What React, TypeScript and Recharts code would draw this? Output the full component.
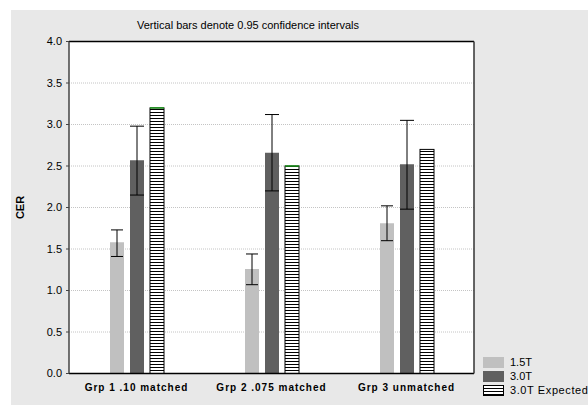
import { Bar, CartesianGrid, ComposedChart, ErrorBar, XAxis, YAxis } from "recharts";

const categories = ["Grp 1 .10 matched", "Grp 2 .075 matched", "Grp 3 unmatched"];
const t15 = [1.58, 1.26, 1.81];
const t15Low = [1.41, 1.07, 1.6];
const t15High = [1.73, 1.44, 2.02];
const t30 = [2.57, 2.66, 2.52];
const t30Low = [2.15, 2.2, 1.98];
const t30High = [2.98, 3.12, 3.05];
const t30Expected = [3.2, 2.5, 2.7];
const yTicks = [0, 0.5, 1, 1.5, 2, 2.5, 3, 3.5, 4];
const rightTicks = [0, 1, 2, 3, 4, 5, 6, 7];

const data = categories.map((name, i) => ({
  name,
  t15: t15[i],
  t15Err: [t15[i] - t15Low[i], t15High[i] - t15[i]],
  t30: t30[i],
  t30Err: [t30[i] - t30Low[i], t30High[i] - t30[i]],
  exp: t30Expected[i],
}));

const FONT = "Arial, 'Liberation Sans', sans-serif";
const LIGHT = "#c0c0c0";
const DARK = "#606060";

function CatTick(props: any) {
  const { x, y, payload } = props;
  return (
    <text
      x={x}
      y={y}
      dy={9}
      textAnchor="middle"
      fontFamily={FONT}
      fontSize={10}
      fontWeight="bold"
      letterSpacing={1}
      fill="#000"
    >
      {payload.value}
    </text>
  );
}

function ExpectedBar(props: any) {
  const { x, y, width, height, index } = props;
  return (
    <g>
      <rect x={x} y={y} width={width} height={height} fill="url(#hstripe)" stroke="#000" strokeWidth={1} />
      {index < 2 && <line x1={x} x2={x + width} y1={y} y2={y} stroke="#1f9a1f" strokeWidth={1.5} />}
    </g>
  );
}

const legendItems = [
  { label: "1.5T", fill: LIGHT },
  { label: "3.0T", fill: DARK },
  { label: "3.0T Expected", fill: "stripe" },
];

export default function App() {
  return (
    <div style={{ position: "absolute", left: 0, top: 0, width: 588, height: 405, background: "#fff" }}>
      <div style={{ position: "absolute", left: 11, top: 10, width: 577, height: 395, background: "#e8e8e8", fontFamily: FONT }}>
        <div
          style={{
            position: "absolute",
            left: 0,
            width: 474,
            top: 9,
            textAlign: "center",
            fontSize: 11,
            color: "#000",
          }}
        >
          Vertical bars denote 0.95 confidence intervals
        </div>
        <ComposedChart
          width={577}
          height={395}
          data={data}
          barSize={14}
          barGap={6}
          margin={{ top: 31.5, right: 114, bottom: 11.5, left: 0 }}
        >
          <defs>
            <pattern id="hstripe" width={4} height={3} patternUnits="userSpaceOnUse">
              <rect width={4} height={3} fill="#fff" />
              <rect width={4} height={1} fill="#000" />
            </pattern>
          </defs>
          <CartesianGrid
            yAxisId="left"
            vertical={false}
            fill="#fff"
            stroke="#c4c4c4"
            strokeDasharray="1 1"
          />
          <XAxis
            dataKey="name"
            xAxisId="bottom"
            height={20}
            axisLine={{ stroke: "#000", strokeWidth: 1.5 }}
            tickLine={false}
            tick={<CatTick />}
            interval={0}
          />
          <XAxis
            dataKey="name"
            xAxisId="top"
            orientation="top"
            height={1}
            mirror
            tick={false}
            tickSize={3}
            axisLine={{ stroke: "#000", strokeWidth: 1.5 }}
            tickLine={{ stroke: "#000" }}
          />
          <YAxis
            yAxisId="left"
            width={58}
            domain={[0, 4]}
            ticks={yTicks}
            tickFormatter={(v: number) => v.toFixed(1)}
            tickSize={3}
            tickMargin={4}
            tick={{ fill: "#000", fontSize: 11, fontFamily: FONT }}
            axisLine={{ stroke: "#444", strokeWidth: 1.5 }}
            tickLine={{ stroke: "#444" }}
            label={{
              value: "CER",
              angle: -90,
              position: "insideLeft",
              offset: 9,
              style: { fontWeight: "bold", fontSize: 11, fill: "#000", fontFamily: FONT, textAnchor: "middle" },
            }}
          />
          <YAxis
            yAxisId="right"
            orientation="right"
            width={1}
            domain={[0, 7]}
            ticks={rightTicks}
            mirror
            tick={false}
            tickSize={3}
            axisLine={{ stroke: "#333", strokeWidth: 1.5 }}
            tickLine={{ stroke: "#333" }}
          />
          <Bar dataKey="t15" xAxisId="bottom" yAxisId="left" fill={LIGHT} isAnimationActive={false}>
            <ErrorBar dataKey="t15Err" width={6} stroke="#000" strokeWidth={1} />
          </Bar>
          <Bar dataKey="t30" xAxisId="bottom" yAxisId="left" fill={DARK} isAnimationActive={false}>
            <ErrorBar dataKey="t30Err" width={7} stroke="#000" strokeWidth={1} />
          </Bar>
          <Bar dataKey="exp" xAxisId="bottom" yAxisId="left" shape={<ExpectedBar />} isAnimationActive={false} />
        </ComposedChart>
        <div style={{ position: "absolute", left: 472, top: 345, fontSize: 11, color: "#000", whiteSpace: "nowrap" }}>
          {legendItems.map((it) => (
            <div key={it.label} style={{ display: "flex", alignItems: "center", height: 14 }}>
              <svg width={21} height={11} style={{ marginRight: 6, flexShrink: 0 }}>
                {it.fill === "stripe" ? (
                  <>
                    <defs>
                      <pattern id="lstripe" width={4} height={3} patternUnits="userSpaceOnUse">
                        <rect width={4} height={3} fill="#fff" />
                        <rect width={4} height={1} fill="#000" />
                      </pattern>
                    </defs>
                    <rect x={0.5} y={0.5} width={20} height={10} fill="url(#lstripe)" stroke="#000" />
                  </>
                ) : (
                  <rect width={21} height={11} fill={it.fill} />
                )}
              </svg>
              <span style={{ letterSpacing: it.label.length > 5 ? 0.6 : 0 }}>{it.label}</span>
            </div>
          ))}
        </div>
      </div>
    </div>
  );
}
